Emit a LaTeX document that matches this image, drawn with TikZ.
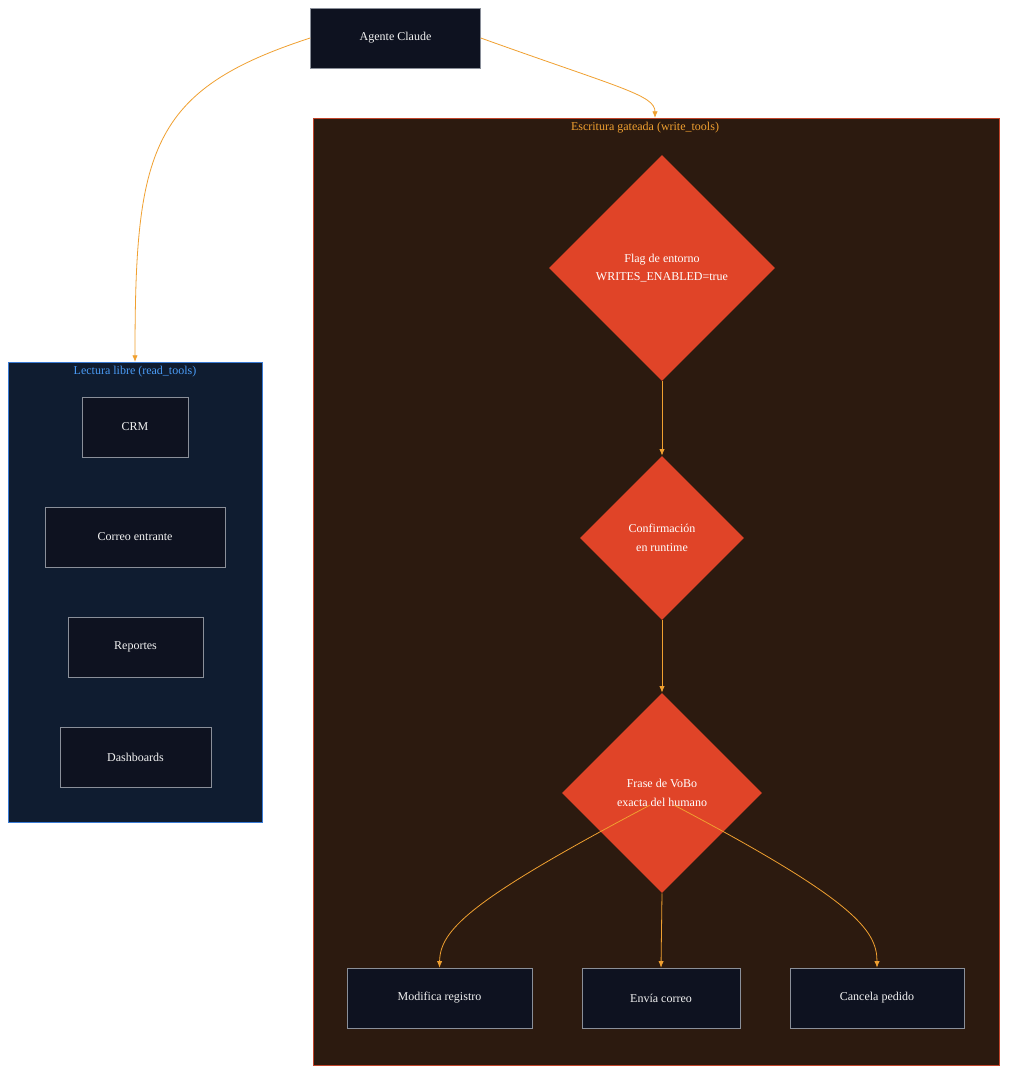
\documentclass[tikz,border=0pt]{standalone}
\usepackage{fontspec}
\setmainfont{Liberation Serif}
\usetikzlibrary{shapes.geometric,arrows.meta}
\definecolor{nodefill}{HTML}{0E1220}
\definecolor{nodeline}{HTML}{8A8F99}
\definecolor{wfill}{HTML}{2C1A0F}
\definecolor{wline}{HTML}{C0442A}
\definecolor{rfill}{HTML}{0F1C30}
\definecolor{rline}{HTML}{3A7BD5}
\definecolor{edge}{HTML}{F0A030}
\definecolor{dia}{HTML}{E04428}
\definecolor{rlab}{HTML}{4A9BF5}
\begin{document}
\begin{tikzpicture}[x=0.75pt,y=-0.75pt,
  box/.style={draw=nodeline,fill=nodefill,text=white!90!gray,font=\fontsize{9}{11}\selectfont,inner sep=0,minimum height=45pt},
  dmd/.style={diamond,aspect=1,fill=dia,inner sep=0,text=white,font=\fontsize{9}{11}\selectfont,align=center},
  arr/.style={draw=edge,line width=0.6pt,-{Latex[length=5pt,width=4pt]}}]
\useasboundingbox (0,0) rectangle (1015,1082);
\fill[white] (0,0) rectangle (1015,1082);
% clusters
\draw[fill=wfill,draw=wline,line width=0.6pt] (313,118) rectangle (999,1065);
\node[text=edge,font=\fontsize{9}{11}\selectfont] (wl) at (645,128) {Escritura gateada (write\_tools)};
\coordinate (wtop) at (655,118);
\draw[fill=rfill,draw=rline,line width=0.6pt] (8,362) rectangle (262,822);
\node[text=rlab,font=\fontsize{9}{11}\selectfont] (rl) at (135,372) {Lectura libre (read\_tools)};
\coordinate (rtop) at (135,362);
% nodes
\node[box,minimum width=127.5pt] (ag) at (395.5,38) {Agente Claude};
\node[box,minimum width=79.5pt] (crm) at (135,427) {CRM};
\node[box,minimum width=135pt] (ce) at (135,537) {Correo entrante};
\node[box,minimum width=101pt] (rep) at (135.5,647) {Reportes};
\node[box,minimum width=113pt] (dash) at (135.5,757) {Dashboards};
\node[dmd,minimum width=169.5pt,minimum height=169.5pt] (d1) at (662,268) {Flag de entorno\\[3pt]WRITES\_ENABLED=true};
\node[dmd,minimum width=123pt,minimum height=123pt] (d2) at (662,538) {Confirmación\\[3pt]en runtime};
\node[dmd,minimum width=150pt,minimum height=150pt] (d3) at (662,793) {Frase de VoBo\\[3pt]exacta del humano};
\node[box,minimum width=139pt] (mr) at (439.5,998) {Modifica registro};
\node[box,minimum width=118.5pt] (ec) at (661,998) {Envía correo};
\node[box,minimum width=130.5pt] (cp) at (877,998) {Cancela pedido};
% edges
\draw[arr] (ag.west) .. controls (150,90) and (135,150) .. (rtop);
\draw[arr] (ag.east) .. controls (620,88) and (655,95) .. (wtop);
\draw[arr] (d1.south) -- (d2.north);
\draw[arr] (d2.south) -- (d3.north);
\draw[arr] (d3.south) -- (ec.north);
\draw[arr] (d3.south west) ++(38,-38) .. controls (470,900) and (440,930) .. (mr.north);
\draw[arr] (d3.south east) ++(-38,-38) .. controls (854,900) and (877,930) .. (cp.north);
\end{tikzpicture}
\end{document}
